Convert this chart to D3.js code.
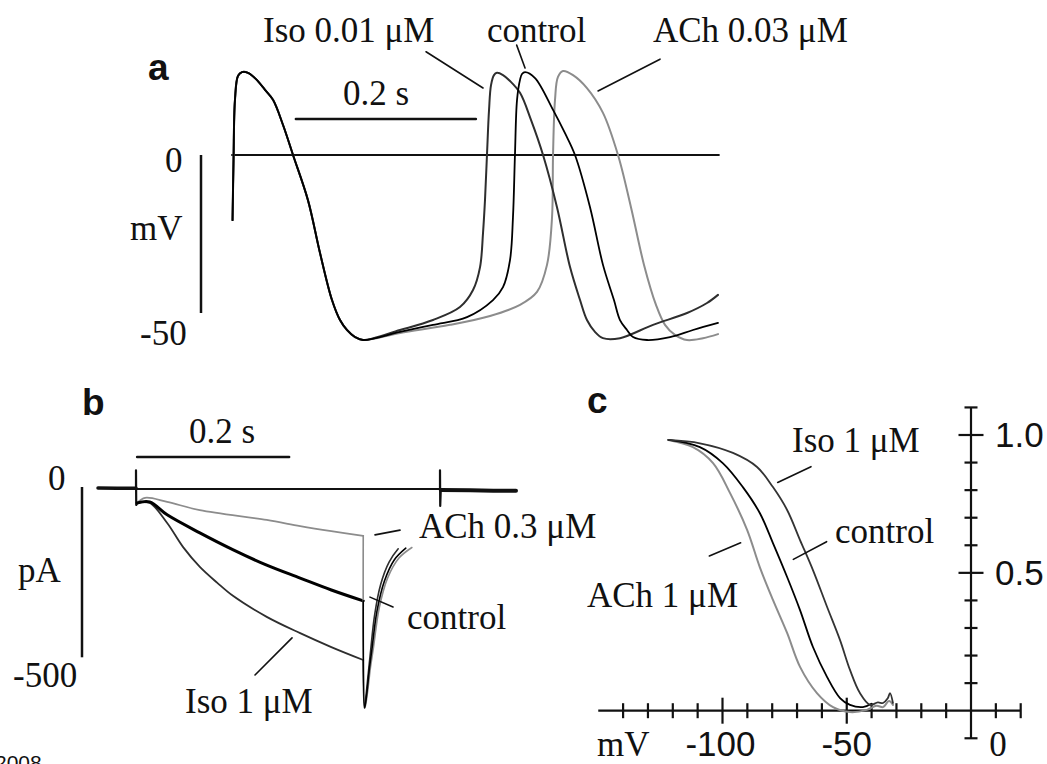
<!DOCTYPE html>
<html>
<head>
<meta charset="utf-8">
<script src="https://cdn.jsdelivr.net/npm/d3@7"></script>
<style>
  html, body { margin: 0; padding: 0; background: #fff; }
  svg { display: block; }
  .serif { font-family: "Liberation Serif", "Times New Roman", serif; }
  .sans  { font-family: "Liberation Sans", Arial, sans-serif; }
</style>
</head>
<body>
<svg id="fig" width="1047" height="764"></svg>
<script>
// ---------- Panel a: spontaneous action potentials (time ms, potential mV) ----------
const apFirstBeat = [[0.6,-17.6],[1.7,-1.4],[3.3,14.9],[6.7,21.4],[11.1,22.4],[17.8,22.2],[26.7,20.5],
  [36.7,17.6],[45.6,14.9],[56.7,8.1],[67.8,0],[84.4,-12.2],[97.8,-26.5],[111.1,-39.2],[120,-44.6],
  [127.8,-47.3],[136.7,-49.2],[145.6,-50]];
const apIso = [[186.7,-47.3],[223.3,-44.6],[253.3,-41.1],[267.8,-36.5],[275.6,-30.3],[278.9,-21.1],
  [281.1,-12.2],[283.3,0],[285.6,12.2],[287.8,18.9],[291.1,21.6],[294.4,22.2],[301.1,21.6],[308.9,20],
  [320,16.8],[332.2,9.5],[345.6,0],[361.1,-14.1],[375.6,-30.3],[386.7,-39.2],[394.4,-44.6],[403.3,-47.8],
  [412.2,-49.5],[431.1,-49.5],[467.8,-45.9],[505.6,-42.7],[527.8,-40],[540,-37.8]];
const apControl = [[186.7,-47.8],[223.3,-45.9],[261.1,-43.8],[290,-39.2],[301.1,-35.7],[308.9,-28.4],
  [312.2,-16.8],[314.4,0],[316.7,14.9],[320,20.3],[322.2,21.9],[325.6,22.4],[336.7,20.8],[356.7,12.2],
  [370,5.9],[381.1,0],[397.8,-14.1],[412.2,-29.7],[424.4,-39.2],[431.1,-44.6],[438.9,-47.3],[445.6,-49.2],
  [461.1,-50],[486.7,-49.2],[512.2,-47.3],[540,-45.4]];
const apACh = [[186.7,-48.1],[242.2,-45.9],[286.7,-43.5],[320,-40.5],[338.9,-37.0],[350,-29.7],
  [355.6,-16.8],[356.7,0],[358.9,14.9],[362.2,21.1],[367.8,22.7],[378.9,21.6],[394.4,18.1],[412.2,11.4],
  [428.9,0],[443.3,-14.1],[457.8,-29.7],[471.1,-40.5],[481.1,-45.9],[492.2,-48.6],[505.6,-50],
  [523.3,-49.5],[540,-48.4]];
const apLabels = ["Iso 0.01 \u03bcM", "control", "ACh 0.03 \u03bcM"];
const apLeaders = [[[215.6,27.9],[278.9,18.1]], [[316.3,29.7],[325.6,23.5]], [[475.6,25.9],[406.7,17.3]]];
const apAxisLabels = ["0", "mV", "-50"];

// ---------- Panel b: membrane current during a hyperpolarising step (time ms, current pA) ----------
const bPreBaseline = [[-50,3],[-25,2],[0,2]];
const bStepArtifact = [[0,2],[0,55],[0.3,-47],[1.5,-41]];
const bEndArtifact = [[400,0],[400,55],[400.3,-50],[401,-3]];
const bPostBaseline = [[401,-3],[440,-4],[470,-5],[500,-5]];
const bACh = [[1.5,-41],[12,-26],[41,-38],[84,-62],[172,-91],[216,-109],[257,-124],[299,-138]];
const bControl = [[1.5,-41],[18,-38],[41,-76],[84,-129],[128,-179],[172,-224],[216,-262],[257,-297],[299,-329]];
const bIso = [[1.5,-41],[18,-41],[41,-100],[62,-171],[84,-229],[107,-276],[128,-315],[172,-376],
  [216,-424],[257,-465],[299,-503]];
const bTailIso = [[299,-503],[300.3,-644],[302.5,-610],[305.5,-545],[308.5,-480],[314,-370],[322,-280],[333,-215],[345,-176]];
const bTailControl = [[299,-329],[300.8,-644],[303.5,-605],[307,-530],[310.5,-470],[317,-360],[327,-270],[340,-208],[355,-174]];
const bTailACh = [[299,-138],[301.3,-644],[304.5,-600],[308.5,-525],[312.5,-465],[320,-350],[331,-262],[346,-203],[363,-172]];
const bLabels = ["ACh 0.3 \u03bcM", "control", "Iso 1 \u03bcM"];
const bLeaders = [[[314.5,-135],[347.4,-121]], [[307.9,-318],[338.2,-347]], [[156.6,-547],[205.3,-438]]];
const bAxisLabels = ["0", "pA", "-500"];

// ---------- Panel c: normalised activation vs membrane potential (mV, fraction) ----------
const cIso = [[-121.8,0.982],[-109.1,0.970],[-95.8,0.935],[-86.1,0.884],[-79.7,0.811],[-74.0,0.728],
  [-68.8,0.619],[-63.6,0.510],[-57.9,0.376],[-52.7,0.256],[-48.7,0.148],[-44.7,0.064],[-40.6,0.021],
  [-37.5,0.030],[-35.4,0.028],[-33.5,0.045],[-32.6,0.064],[-31.4,0.028]];
const cControl = [[-121.8,0.982],[-109.1,0.956],[-99.9,0.898],[-91.8,0.811],[-85.0,0.717],[-79.7,0.608],
  [-74.0,0.485],[-68.8,0.365],[-63.6,0.231],[-57.9,0.122],[-52.7,0.046],[-48.7,0.021],[-43.5,0.013],[-40,0.025]];
const cACh = [[-121.8,0.982],[-111.9,0.956],[-103.8,0.898],[-97.0,0.790],[-90.1,0.656],[-85.0,0.521],
  [-79.7,0.402],[-74.0,0.282],[-68.8,0.159],[-62.0,0.064],[-55.5,0.013],[-48.7,-0.005],[-41.9,0.003],
  [-38,0.018],[-35.4,0.013],[-33,0.035],[-31.4,0.021]];
const cXTicks = [-140,-130,-120,-110,-100,-90,-80,-70,-60,-50,-40,-30,-20,-10,10,20];
const cXMajor = [-100,-50];
const cYTicks = [-0.1,0.1,0.2,0.3,0.4,0.5,0.6,0.7,0.8,0.9,1.0,1.1];
const cYMajor = [0.5,1.0];
const cXTickLabels = ["-100","-50"];
const cYTickLabels = ["1.0","0.5"];
const cLabels = ["Iso 1 \u03bcM", "control", "ACh 1 \u03bcM"];
const cLeaders = [[[-77.8,0.828],[-64.4,0.885]], [[-71.5,0.549],[-58.1,0.613]], [[-105.3,0.561],[-92.7,0.609]]];

// ---------- drawing ----------
const svg = d3.select("#fig");
svg.append("rect").attr("width",1047).attr("height",764).attr("fill","#fff");
const ink = "#111";
const colIso = "#2e2e2e", colCtl = "#000", colACh = "#8c8c8c";

function addText(g, txt, x, y, cls, size, opts = {}) {
  return g.append("text").attr("class", cls).attr("x", x).attr("y", y)
    .attr("font-size", size).attr("fill", ink)
    .attr("font-weight", opts.bold ? "bold" : null)
    .attr("text-anchor", opts.anchor || "start").text(txt);
}
function addPath(g, data, line, color, width) {
  return g.append("path").datum(data).attr("d", line).attr("fill","none")
    .attr("stroke", color).attr("stroke-width", width)
    .attr("stroke-linejoin","round").attr("stroke-linecap","round");
}

// Panel a
const xA = d3.scaleLinear().domain([0, 541]).range([232, 718.9]);
const yA = d3.scaleLinear().domain([0, -50]).range([155, 340]);
const lineA = d3.line().x(d => xA(d[0])).y(d => yA(d[1])).curve(d3.curveCatmullRom.alpha(0.5));
const lineAlin = d3.line().x(d => xA(d[0])).y(d => yA(d[1]));
const gA = svg.append("g");
addPath(gA, [[0,0],[541,0]], lineAlin, ink, 2);
addPath(gA, apFirstBeat.concat(apACh), lineA, colACh, 2);
addPath(gA, apFirstBeat.concat(apIso), lineA, colIso, 2);
addPath(gA, apFirstBeat.concat(apControl), lineA, colCtl, 1.8);
// time scale bar (0.2 s) and voltage bar
addPath(gA, [[71,9.7],[271,9.7]], lineAlin, ink, 2.5);
gA.append("line").attr("x1",201).attr("x2",201).attr("y1",yA(0)).attr("y2",yA(-42.7))
  .attr("stroke",ink).attr("stroke-width",2.5);
apLeaders.forEach(l => addPath(gA, l, lineAlin, ink, 1.6));
addText(gA, "a", 148, 80, "sans", 37, {bold:true});
addText(gA, "0.2 s", 343, 105, "serif", 35);
addText(gA, apLabels[0], 263, 42, "serif", 35);
addText(gA, apLabels[1], 487, 42, "serif", 35);
addText(gA, apLabels[2], 653, 42, "serif", 35);
addText(gA, apAxisLabels[0], 165, yA(0)+17, "serif", 35);
addText(gA, apAxisLabels[1], 130, 240, "serif", 35);
addText(gA, apAxisLabels[2], 140, yA(-50)+5, "serif", 35);

// Panel b
const xB = d3.scaleLinear().domain([0, 300]).range([136, 364]);
const yB = d3.scaleLinear().domain([0, -500]).range([489, 659]);
const lineB = d3.line().x(d => xB(d[0])).y(d => yB(d[1])).curve(d3.curveCatmullRom.alpha(0.5));
const lineBlin = d3.line().x(d => xB(d[0])).y(d => yB(d[1]));
const gB = svg.append("g");
addPath(gB, [[0,0],[400,0]], lineBlin, ink, 2);
addPath(gB, bPreBaseline, lineBlin, ink, 3.5);
addPath(gB, bPostBaseline, lineBlin, ink, 4);
addPath(gB, bStepArtifact, lineBlin, ink, 2.2);
addPath(gB, bEndArtifact, lineBlin, ink, 2.2);
addPath(gB, bACh, lineB, colACh, 1.8);
addPath(gB, bIso, lineB, colIso, 1.8);
addPath(gB, bControl, lineB, colCtl, 3);
addPath(gB, bTailACh, lineB, colACh, 1.6);
addPath(gB, bTailIso, lineB, colIso, 1.6);
addPath(gB, bTailControl, lineB, colCtl, 1.6);
// scale bars
addPath(gB, [[1.5,94],[201.5,94]], lineBlin, ink, 2.5);
gB.append("line").attr("x1",82).attr("x2",82).attr("y1",yB(0)-2).attr("y2",yB(-495))
  .attr("stroke",ink).attr("stroke-width",2.5);
bLeaders.forEach(l => addPath(gB, l, lineBlin, ink, 1.6));
addText(gB, "b", 82, 415, "sans", 37, {bold:true});
addText(gB, "0.2 s", 189, 443, "serif", 35);
addText(gB, bLabels[0], 419, 538, "serif", 35);
addText(gB, bLabels[1], 407, 629, "serif", 35);
addText(gB, bLabels[2], 185, 713, "serif", 35);
addText(gB, bAxisLabels[0], 48, 490, "serif", 35);
addText(gB, bAxisLabels[1], 18, 582, "serif", 35);
addText(gB, bAxisLabels[2], 13, 687, "serif", 35);

// Panel c
const xC = d3.scaleLinear().domain([-150, 20]).range([598.25, 1020.7]);
const yC = d3.scaleLinear().domain([0, 1]).range([710.7, 435]);
const lineC = d3.line().x(d => xC(d[0])).y(d => yC(d[1])).curve(d3.curveCatmullRom.alpha(0.5));
const gC = svg.append("g");
const axisStroke = 2.2;
gC.append("line").attr("x1", xC(-150)).attr("x2", xC(20)).attr("y1", yC(0)).attr("y2", yC(0))
  .attr("stroke", ink).attr("stroke-width", axisStroke);
gC.append("line").attr("x1", xC(0)).attr("x2", xC(0)).attr("y1", yC(1.1)).attr("y2", yC(-0.1))
  .attr("stroke", ink).attr("stroke-width", axisStroke);
gC.selectAll(".xt").data(cXTicks).join("line").attr("class","xt")
  .attr("x1", d => xC(d)).attr("x2", d => xC(d))
  .attr("y1", d => yC(0) - (cXMajor.includes(d) ? 13 : 7.5))
  .attr("y2", d => yC(0) + (cXMajor.includes(d) ? 13 : 7.5))
  .attr("stroke", ink).attr("stroke-width", axisStroke);
gC.selectAll(".yt").data(cYTicks).join("line").attr("class","yt")
  .attr("y1", d => yC(d)).attr("y2", d => yC(d))
  .attr("x1", d => xC(0) - (cYMajor.includes(d) ? 12.5 : 6.5))
  .attr("x2", d => xC(0) + (cYMajor.includes(d) ? 12.5 : 6.5))
  .attr("stroke", ink).attr("stroke-width", axisStroke);
addPath(gC, cACh, lineC, colACh, 2);
addPath(gC, cControl, lineC, colCtl, 1.8);
addPath(gC, cIso, lineC, "#333", 1.8);
cLeaders.forEach(l => addPath(gC, l, d3.line().x(d => xC(d[0])).y(d => yC(d[1])), ink, 1.6));
addText(gC, "c", 587, 413, "sans", 37, {bold:true});
addText(gC, cLabels[0], 792, 452, "serif", 35);
addText(gC, cLabels[1], 835, 543, "serif", 35);
addText(gC, cLabels[2], 587, 607, "serif", 35);
addText(gC, cYTickLabels[0], 995, yC(1.0) + 12, "sans", 35);
addText(gC, cYTickLabels[1], 995, yC(0.5) + 12, "sans", 35);
addText(gC, cXTickLabels[0], xC(-100) - 2, 756, "sans", 35, {anchor:"middle"});
addText(gC, cXTickLabels[1], xC(-50), 756, "sans", 35, {anchor:"middle"});
addText(gC, "0", xC(0) + 27, 756, "serif", 35, {anchor:"middle"});
addText(gC, "mV", 597, 756, "serif", 35);

// copyright year at the lower-left edge
addText(svg, "2008", -5, 770, "sans", 21);
</script>
</body>
</html>
